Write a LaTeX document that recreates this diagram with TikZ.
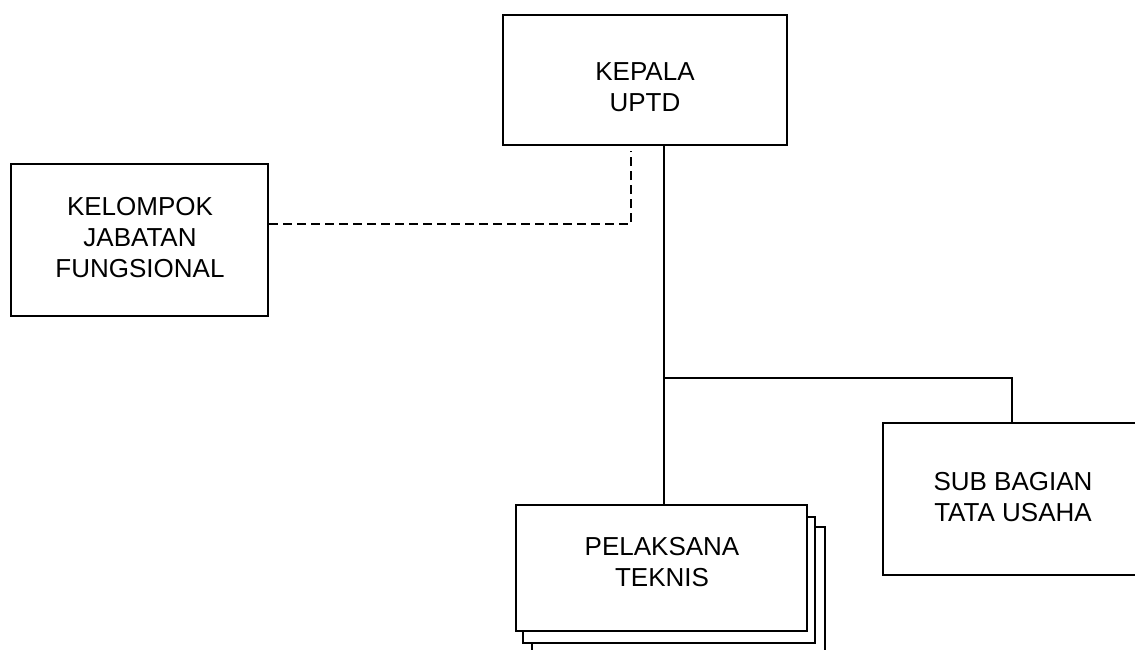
\documentclass[tikz,border=0pt]{standalone}
\usepackage{fontspec}
\setmainfont{Liberation Sans}
\usetikzlibrary{fit}
\begin{document}
\begin{tikzpicture}[x=0.5pt,y=-0.5pt,
  box/.style={draw=black, line width=1pt, fill=white, inner sep=0pt},
  lbl/.style={align=center, font=\fontsize{13pt}{15.5pt}\selectfont, inner sep=0pt},
  conn/.style={line width=1pt},
  dconn/.style={line width=1pt, dash pattern=on 4.5pt off 2.5pt}]
\useasboundingbox (0,0) rectangle (1135,649);
% boxes
\node[box, fit={(503,15) (787,145)}] (kepala) {};
\node[box, fit={(11,164) (268,316)}] (kel) {};
\node[box, fit={(883,423) (1141,575)}] (sub) {};
\node[box, fit={(532,527) (825,662)}] (pel3) {};
\node[box, fit={(523,517) (815,643)}] (pel2) {};
\node[box, fit={(516,505) (807,631)}] (pel) {};
% texts
\node[lbl] (tkepala) at (645,87) {KEPALA\\UPTD};
\node[lbl] (tkel) at (140,238) {KELOMPOK\\JABATAN\\FUNGSIONAL};
\node[lbl] (tsub) at (1013,497) {SUB BAGIAN\\TATA USAHA};
\node[lbl] (tpel) at (662,562) {PELAKSANA\\TEKNIS};
% connectors
\coordinate (j) at (664,378);
\coordinate (d) at (631,224);
\draw[conn] (kepala.south -| j) -- (j) -- (pel.north -| j);
\draw[conn] (j) -- (j -| sub.north) -- (sub.north);
\draw[dconn, shorten >=2.5pt] (kel.east |- d) -- (d) -- (d |- kepala.south);
\end{tikzpicture}
\end{document}
